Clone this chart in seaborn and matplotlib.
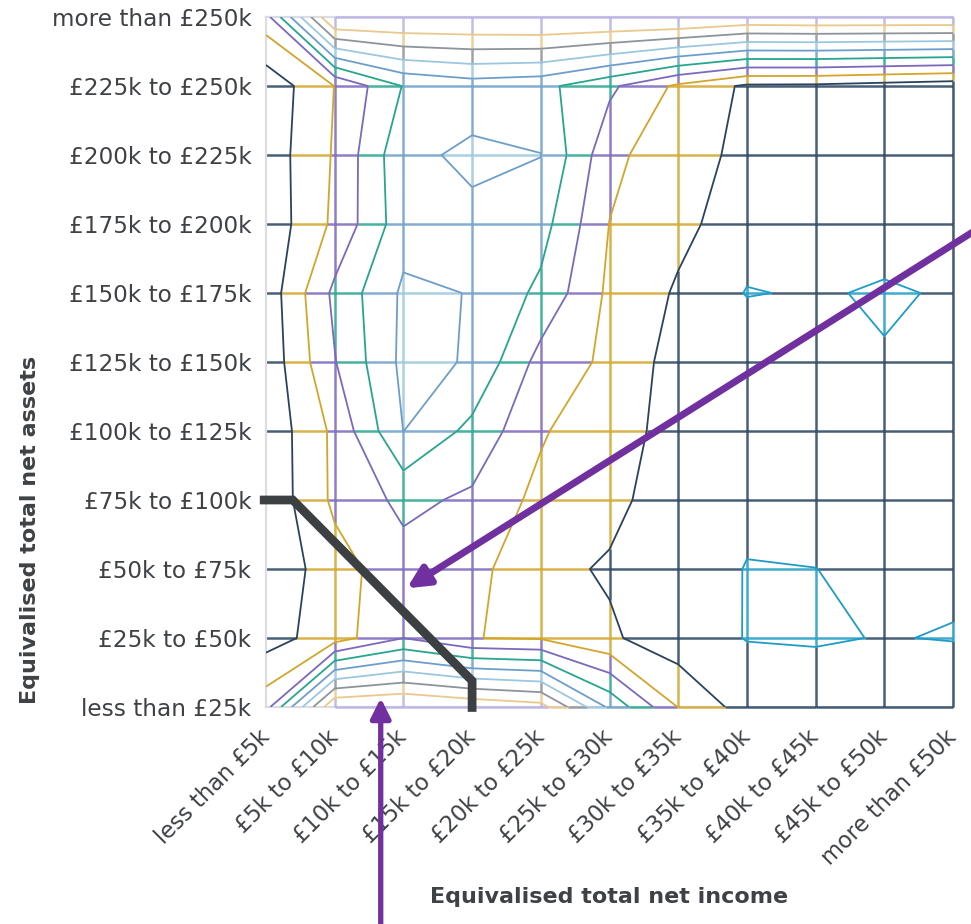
import numpy as np
import matplotlib
matplotlib.use("Agg")
import matplotlib.pyplot as plt
import matplotlib.transforms as mtransforms
import seaborn as sns
from matplotlib.collections import LineCollection

# ---- axis categories -------------------------------------------------------
income_labels = [
    "less than £5k", "£5k to £10k", "£10k to £15k", "£15k to £20k",
    "£20k to £25k", "£25k to £30k", "£30k to £35k", "£35k to £40k",
    "£40k to £45k", "£45k to £50k", "more than £50k",
]
asset_labels = [
    "less than £25k", "£25k to £50k", "£50k to £75k", "£75k to £100k",
    "£100k to £125k", "£125k to £150k", "£150k to £175k", "£175k to £200k",
    "£200k to £225k", "£225k to £250k", "more than £250k",
]

# ---- household density per income band, one list per asset band ----------
assets_lt_25k = [3.6, 10.0, 10.2, 9.8, 9.4, 5.8, 2.97, 1.55, 1.67, 1.6, 1.95]
assets_25_50k = [1.57, 2.53, 3.99, 3.02, 2.9, 2.15, 1.4, 0.97, 0.9, 1.04, 0.95]
assets_50_75k = [1.18, 2.6, 3.6, 3.3, 2.3, 1.88, 1.7, 0.95, 0.99, 1.3, 1.17]
assets_75_100k = [1.23, 3.2, 4.25, 3.82, 2.71, 2.3, 1.4, 1.3, 1.5, 1.5, 1.5]
assets_100_125k = [1.26, 3.22, 6.01, 4.72, 3.12, 2.2, 1.83, 1.5, 1.5, 1.5, 1.5]
assets_125_150k = [1.3, 3.95, 6.25, 5.93, 3.63, 2.79, 1.57, 1.8, 1.5, 1.06, 1.5]
assets_150_175k = [1.37, 4.23, 6.17, 5.97, 4.77, 2.8, 1.88, 0.95, 1.09, 0.9, 1.09]
assets_175_200k = [1.3, 3.2, 5.6, 5.77, 5.4, 2.98, 2.25, 1.5, 1.6, 1.4, 1.5]
assets_200_225k = [1.4, 3.1, 5.75, 6.2, 6.02, 3.3, 2.27, 1.84, 1.6, 1.5, 1.5]
assets_225_250k = [1.3, 3.02, 5.05, 5.5, 5.3, 4.2, 2.8, 1.83, 1.8, 1.6, 1.4]
assets_gt_250k = [3.6, 10.3, 10.2, 10.2, 10.3, 10.3, 10.3, 9.93, 10.0, 10.0, 10.0]

contour_levels = [1, 2, 3, 4, 5, 6, 7, 8, 9]

# ---- styling ---------------------------------------------------------------
band_colors = [
    "#1f9cc6",  # cyan
    "#29435f",  # navy
    "#d3a52b",  # gold
    "#7c68bd",  # purple
    "#27a58d",  # teal
    "#6d9ecb",  # steel blue
    "#9cc7df",  # light blue
    "#8e949b",  # grey
    "#e9c98e",  # tan
    "#b9b0e4",  # lavender (above the top level)
]
arrow_purple = "#7030a0"
marker_grey = "#3c4043"
text_grey = "#3e4245"

sns.set_theme(style="white")
plt.rcParams["font.family"] = ["DejaVu Sans"]

density = np.array([
    assets_lt_25k, assets_25_50k, assets_50_75k, assets_75_100k,
    assets_100_125k, assets_125_150k, assets_150_175k, assets_175_200k,
    assets_200_225k, assets_225_250k, assets_gt_250k,
])
xs = np.arange(len(income_labels))
ys = np.arange(len(asset_labels))

fig = plt.figure(figsize=(9.71, 9.24), dpi=100)
ax = fig.add_axes([266 / 971, (924 - 707) / 924, 687 / 971, 690 / 924])
ax.set_xlim(0, len(xs) - 1)
ax.set_ylim(0, len(ys) - 1)


def band_pieces(p0, p1, v0, v1):
    """Split a grid edge where it crosses contour levels; colour each piece by band."""
    ts = [0.0, 1.0]
    if v1 != v0:
        ts += [(lv - v0) / (v1 - v0) for lv in contour_levels
               if min(v0, v1) < lv < max(v0, v1)]
    ts = sorted(ts)
    out = []
    for a, b in zip(ts[:-1], ts[1:]):
        vm = v0 + (v1 - v0) * (a + b) / 2
        idx = int(np.searchsorted(contour_levels, vm))
        pa = (p0[0] + (p1[0] - p0[0]) * a, p0[1] + (p1[1] - p0[1]) * a)
        pb = (p0[0] + (p1[0] - p0[0]) * b, p0[1] + (p1[1] - p0[1]) * b)
        out.append(([pa, pb], band_colors[idx]))
    return out


segs, cols = [], []
nx, ny = len(xs), len(ys)
for j in range(ny):
    for i in range(nx - 1):
        if i == 0 and j in (0, ny - 1):
            continue
        for s, c in band_pieces((xs[i], ys[j]), (xs[i + 1], ys[j]),
                                density[j, i], density[j, i + 1]):
            segs.append(s)
            cols.append(c)
for i in range(1, nx):
    for j in range(ny - 1):
        for s, c in band_pieces((xs[i], ys[j]), (xs[i], ys[j + 1]),
                                density[j, i], density[j + 1, i]):
            segs.append(s)
            cols.append(c)

grid = LineCollection(segs, colors=cols, linewidths=1.8, alpha=0.85,
                      zorder=1, capstyle="butt")
grid.set_clip_on(False)
ax.add_collection(grid)

# light frame
for sp in ax.spines.values():
    sp.set_visible(True)
    sp.set_color("#dcdce2")
    sp.set_linewidth(1.6)
    sp.set_zorder(0.5)
ax.spines["left"].set_zorder(2)

ax.contour(xs, ys, density, levels=contour_levels, colors=band_colors[:9],
           linewidths=1.3, zorder=3)

# ---- annotations -----------------------------------------------------------
ax.plot([-0.09, 0.39, 3.0, 3.0], [3.0, 3.0, 0.38, -0.07], color=marker_grey,
        lw=6.3, solid_joinstyle="miter", solid_capstyle="butt",
        clip_on=False, zorder=6)

ax.annotate("", xy=(2.05, 1.72), xytext=(10.6, 7.08), annotation_clip=False,
            arrowprops=dict(arrowstyle="-|>,head_length=0.65,head_width=0.32",
                            mutation_scale=20, lw=5, color=arrow_purple,
                            shrinkA=0, shrinkB=0), zorder=7)
ax.annotate("", xy=(1.67, 0.13), xytext=(1.67, -3.4), annotation_clip=False,
            arrowprops=dict(arrowstyle="-|>,head_length=0.6,head_width=0.3",
                            mutation_scale=20, lw=3.8, color=arrow_purple,
                            shrinkA=0, shrinkB=0), zorder=7)

# ---- ticks and labels ------------------------------------------------------
ax.set_xticks(xs)
ax.set_xticklabels(income_labels, rotation=45, ha="right", va="center",
                   rotation_mode="anchor", fontsize=16.3, color=text_grey)
shift = mtransforms.ScaledTranslation(-6 / 72, 0, fig.dpi_scale_trans)
for lab in ax.get_xticklabels():
    lab.set_transform(lab.get_transform() + shift)
ax.set_yticks(ys)
ax.set_yticklabels(asset_labels, fontsize=16.7, color=text_grey)
ax.tick_params(axis="both", length=0)
ax.tick_params(axis="y", pad=10.5)
ax.tick_params(axis="x", pad=19)
ax.grid(False)

ax.set_xlabel("Equivalised total net income", fontsize=16, fontweight="bold",
              color=text_grey)
ax.set_ylabel("Equivalised total net assets", fontsize=16, fontweight="bold",
              color=text_grey)
ax.xaxis.set_label_coords(0.5, -0.275)
ax.xaxis.label.set_va("center")
ax.yaxis.set_label_coords(-0.3435, 0.257)
ax.yaxis.label.set_va("center")

fig.savefig("out.png", dpi=100)
